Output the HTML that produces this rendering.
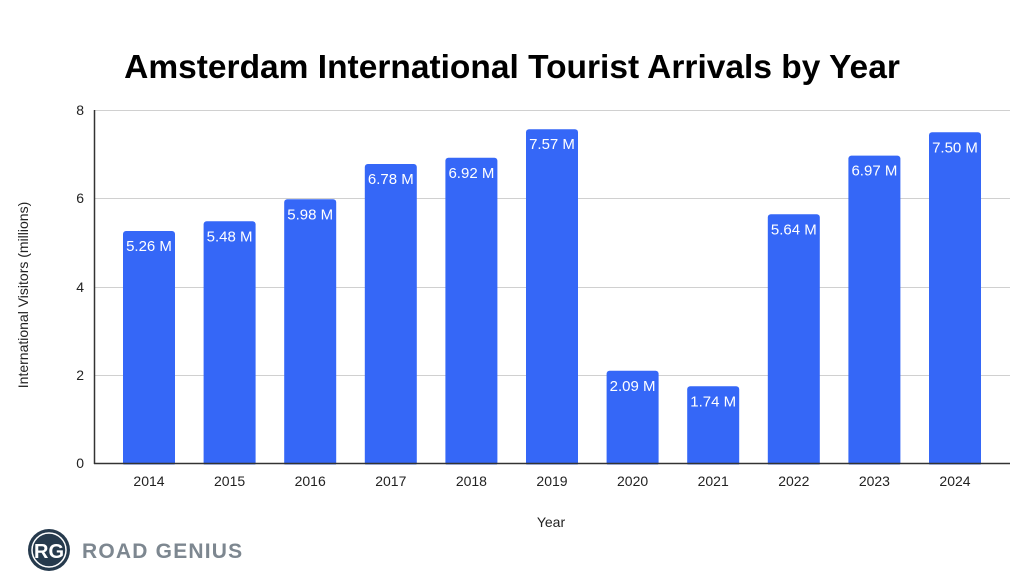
<!DOCTYPE html>
<html><head><meta charset="utf-8"><style>
html,body{margin:0;padding:0;background:#fff;}
svg{display:block;font-family:"Liberation Sans",Arial,sans-serif;}
</style></head><body>
<svg width="1024" height="582" viewBox="0 0 1024 582" xmlns="http://www.w3.org/2000/svg">
<rect width="1024" height="582" fill="#fff"/>
<text x="512" y="78" text-anchor="middle" font-size="33.5" font-weight="bold" fill="#000">Amsterdam International Tourist Arrivals by Year</text>
<g stroke="#d0d0d0" stroke-width="1">
<line x1="94" x2="1010" y1="110.5" y2="110.5"/>
<line x1="94" x2="1010" y1="198.5" y2="198.5"/>
<line x1="94" x2="1010" y1="287.5" y2="287.5"/>
<line x1="94" x2="1010" y1="375.5" y2="375.5"/>
</g>
<g font-size="14" fill="#222" text-anchor="end">
<text x="84" y="115">8</text><text x="84" y="203">6</text><text x="84" y="292">4</text><text x="84" y="380">2</text><text x="84" y="468">0</text>
</g>
<text transform="translate(28,295) rotate(-90)" text-anchor="middle" font-size="14" fill="#222">International Visitors (millions)</text>
<text x="551" y="527" text-anchor="middle" font-size="14" fill="#222">Year</text>
<g fill="#3567f7">
<rect x="123" y="231" width="52" height="235" rx="3"/>
<rect x="203.6" y="221.3" width="52" height="245" rx="3"/>
<rect x="284.2" y="199.3" width="52" height="267" rx="3"/>
<rect x="364.8" y="164" width="52" height="302" rx="3"/>
<rect x="445.4" y="157.8" width="52" height="308" rx="3"/>
<rect x="526" y="129.2" width="52" height="337" rx="3"/>
<rect x="606.6" y="370.8" width="52" height="95" rx="3"/>
<rect x="687.2" y="386.3" width="52" height="80" rx="3"/>
<rect x="767.8" y="214.3" width="52" height="252" rx="3"/>
<rect x="848.4" y="155.6" width="52" height="310" rx="3"/>
<rect x="929" y="132.3" width="52" height="334" rx="3"/>
</g>
<rect x="90" y="464.5" width="930" height="10" fill="#fff"/>
<g font-size="15" fill="#fff" text-anchor="middle">
<text x="149" y="251">5.26 M</text>
<text x="229.6" y="241.3">5.48 M</text>
<text x="310.2" y="219.3">5.98 M</text>
<text x="390.8" y="184">6.78 M</text>
<text x="471.4" y="177.8">6.92 M</text>
<text x="552" y="149.2">7.57 M</text>
<text x="632.6" y="390.8">2.09 M</text>
<text x="713.2" y="406.3">1.74 M</text>
<text x="793.8" y="234.3">5.64 M</text>
<text x="874.4" y="175.6">6.97 M</text>
<text x="955" y="152.3">7.50 M</text>
</g>
<g font-size="14" fill="#222" text-anchor="middle">
<text x="149" y="486">2014</text>
<text x="229.6" y="486">2015</text>
<text x="310.2" y="486">2016</text>
<text x="390.8" y="486">2017</text>
<text x="471.4" y="486">2018</text>
<text x="552" y="486">2019</text>
<text x="632.6" y="486">2020</text>
<text x="713.2" y="486">2021</text>
<text x="793.8" y="486">2022</text>
<text x="874.4" y="486">2023</text>
<text x="955" y="486">2024</text>
</g>
<line x1="94.5" x2="94.5" y1="110" y2="464" stroke="#333" stroke-width="1.5"/>
<line x1="94" x2="1010" y1="463.5" y2="463.5" stroke="#333" stroke-width="1.5"/>
<circle cx="49" cy="550" r="21" fill="#263a4d"/>
<circle cx="49" cy="550" r="17" fill="none" stroke="#fff" stroke-width="1.5"/>
<text x="49" y="558" text-anchor="middle" font-size="20" font-weight="bold" fill="#fff">RG</text>
<text x="82" y="558" font-size="21" font-weight="bold" fill="#7d8790" letter-spacing="1.2">ROAD GENIUS</text>
</svg>
</body></html>
